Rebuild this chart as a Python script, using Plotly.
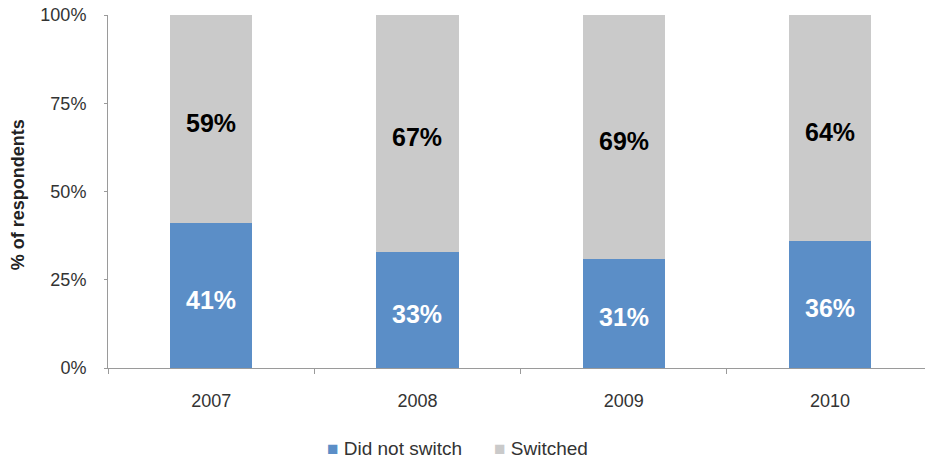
import plotly.graph_objects as go

years = ["2007", "2008", "2009", "2010"]
did_not_switch = [41, 33, 31, 36]
switched = [59, 67, 69, 64]
series_names = ["Did not switch", "Switched"]

BLUE = "#5b8ec7"
GREY = "#cacaca"
FONT = "Liberation Sans, Arial, sans-serif"
TEXT = "#333333"

fig = go.Figure()
series = [
    (series_names[0], did_not_switch, BLUE, "white"),
    (series_names[1], switched, GREY, "black"),
]
for name, vals, color, _ in series:
    fig.add_trace(go.Bar(
        name=name, x=years, y=vals,
        marker=dict(color=color, line=dict(width=0)),
        width=0.4, showlegend=False,
    ))

# value labels centred in each stacked segment (sitting slightly low, as in Excel)
base = [0] * len(years)
for name, vals, _, label_color in series:
    for i, v in enumerate(vals):
        fig.add_annotation(
            x=i, y=base[i] + v / 2, text=f"<b>{v}%</b>", showarrow=False,
            xref="x", yref="y",
            xanchor="center", yanchor="middle", yshift=-4,
            font=dict(family=FONT, size=25, color=label_color),
        )
        base[i] += v

fig.update_layout(
    barmode="stack",
    width=925, height=461,
    margin=dict(l=108, r=0, t=15, b=93),
    plot_bgcolor="white", paper_bgcolor="white",
    font=dict(family=FONT, size=18, color=TEXT),
    showlegend=False,
)
fig.update_xaxes(
    type="category",
    range=[-0.5, 3.46],
    showline=True, linecolor="#9a9a9a", linewidth=1,
    ticks="outside", ticklen=5, tickcolor="#9a9a9a", tickson="boundaries",
    ticklabelstandoff=16,
    showgrid=False, zeroline=False,
    tickfont=dict(size=18, color=TEXT),
)
fig.update_yaxes(
    range=[0, 100],
    tickvals=[0, 25, 50, 75, 100],
    ticktext=["0%", "25%", "50%", "75%", "100%"],
    showline=True, linecolor="#9a9a9a", linewidth=1,
    ticks="outside", ticklen=3, tickcolor="#9a9a9a",
    ticklabelstandoff=14,
    showgrid=False, zeroline=False,
    tickfont=dict(size=18, color=TEXT),
)
fig.add_annotation(
    text="<b>% of respondents</b>", textangle=-90,
    xref="paper", yref="paper", x=-0.11, y=0.49,
    xanchor="center", yanchor="middle", showarrow=False,
    font=dict(family=FONT, size=18, color="#222222"),
)

# legend row below the axis
legend_x = [0.266, 0.470]
for (name, _, color, _), lx in zip(series, legend_x):
    fig.add_annotation(
        text=f"<span style='color:{color}'>■</span> {name}",
        xref="paper", yref="paper", x=lx, y=-0.227,
        xanchor="left", yanchor="middle", showarrow=False,
        font=dict(family=FONT, size=19, color=TEXT),
    )

fig.write_html("out.html")
